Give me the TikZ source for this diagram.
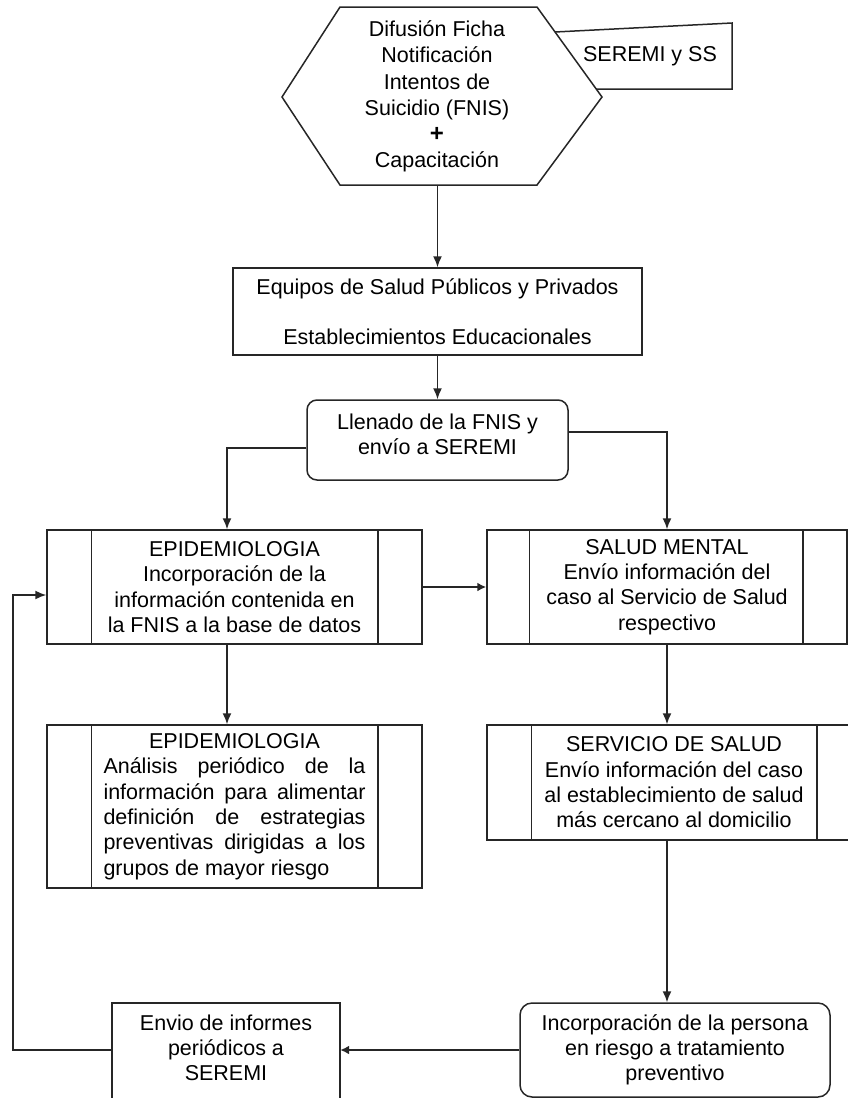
\documentclass[tikz,border=0pt]{standalone}
\usepackage{fontspec}
\setmainfont{Liberation Sans}
\usetikzlibrary{arrows.meta,calc}
\begin{document}
\begin{tikzpicture}[x=1pt,y=-1pt,
  ln/.style={line width=1.5pt, draw=black!85},
  arr/.style={ln,-{Latex[length=11pt,width=9pt]}},
  thickarr/.style={ln,line width=2.6pt,-{Latex[length=9pt,width=9pt]}},
  txt/.style={font=\fontsize{21.5}{25.3}\selectfont, align=center, inner sep=0pt},
  box/.style={txt, ln, draw, rectangle},
  ]
\useasboundingbox (0,0) rectangle (848,1098);
\begin{scope}
\clip (0,0) rectangle (848,1098);
% hexagon and callout
\draw[ln] (340,7) -- (537,7) -- (602,97) -- (537,185) -- (340,185) -- (282,97) -- cycle;
\node[txt, font=\fontsize{21.5}{26.3}\selectfont] (hex) at (437,96.5) {Difusión Ficha\\Notificación\\Intentos de\\Suicidio (FNIS)\\\textbf{\fontsize{24}{26.3}\selectfont +}\\Capacitación};
\draw[ln] (555,32) -- (732,23) -- (732,89) -- (596,89);
\node[txt] (seremi) at (650,56) {SEREMI y SS};
\coordinate (hexbot) at (437.5,185);
% boxes
\node[box, minimum width=409pt, minimum height=87pt] (box2) at (437.5,311.5) {Equipos de Salud Públicos y Privados\\[25.3pt]Establecimientos Educacionales};
\node[box, rounded corners=10pt, minimum width=261pt, minimum height=80pt] (box3) at (437.5,440) {};
\node[txt] (box3t) at (437.5,434.5) {Llenado de la FNIS y\\envío a SEREMI};
\node[box, minimum width=375pt, minimum height=114pt] (epi1) at (234.5,587) {EPIDEMIOLOGIA\\Incorporación de la\\información contenida en\\la FNIS a la base de datos};
\node[box, minimum width=360pt, minimum height=114pt] (salud) at (667,587) {SALUD MENTAL\\Envío información del\\caso al Servicio de Salud\\respectivo};
\node[box, minimum width=375pt, minimum height=163pt] (epi2) at (234.5,806.5) {EPIDEMIOLOGIA\\\makebox[262pt][s]{Análisis periódico de la}\\\makebox[262pt][s]{información para alimentar}\\\makebox[262pt][s]{definición de estrategias}\\\makebox[262pt][s]{preventivas dirigidas a los}\\\makebox[262pt][l]{grupos de mayor riesgo}};
\node[box, minimum width=374pt, minimum height=115pt] (serv) at (674,782.5) {SERVICIO DE SALUD\\Envío información del caso\\al establecimiento de salud\\más cercano al domicilio};
\node[box, rounded corners=12pt, minimum width=310pt, minimum height=94pt] (round) at (675,1050) {Incorporación de la persona\\en riesgo a tratamiento\\preventivo};
\node[txt, minimum width=228pt, minimum height=90pt] (envio) at (226,1048) {Envio de informes\\periódicos a\\SEREMI};
\draw[ln] ([yshift=-20pt]envio.south west) |- (envio.north east) -- ([yshift=-20pt]envio.south east);
% inner lines of process boxes
\draw[ln] ([xshift=45pt]epi1.north west) -- ([xshift=45pt]epi1.south west);
\draw[ln] ([xshift=-45pt]epi1.north east) -- ([xshift=-45pt]epi1.south east);
\draw[ln] ([xshift=45pt]epi2.north west) -- ([xshift=45pt]epi2.south west);
\draw[ln] ([xshift=-45pt]epi2.north east) -- ([xshift=-45pt]epi2.south east);
\draw[ln] ([xshift=43pt]salud.north west) -- ([xshift=43pt]salud.south west);
\draw[ln] ([xshift=-45pt]salud.north east) -- ([xshift=-45pt]salud.south east);
\draw[ln] ([xshift=45pt]serv.north west) -- ([xshift=45pt]serv.south west);
\draw[ln] ([xshift=-45pt]serv.north east) -- ([xshift=-45pt]serv.south east);
% connectors
\draw[arr] (hexbot) -- (box2.north);
\draw[arr] (box2.south) -- (box3.north);
\draw[arr] ([yshift=-8pt]box3.west) -| ([xshift=-7.5pt]epi1.north);
\draw[arr] ([yshift=8pt]box3.east) -| (salud.north);
\draw[thickarr] (epi1.east) -- (salud.west);
\draw[arr] ([xshift=-7.5pt]epi1.south) -- ([xshift=-7.5pt]epi2.north);
\draw[arr] (salud.south) -- (salud.south |- serv.north);
\draw[arr] (salud.south |- serv.south) -- (salud.south |- round.north);
\draw[thickarr] (round.west) -- (round.west -| envio.east);
\coordinate (fb) at (13,595);
\draw[arr] (envio.west |- round.west) -| (fb) -- ([yshift=-8pt]epi1.west);
\end{scope}
\end{tikzpicture}
\end{document}
